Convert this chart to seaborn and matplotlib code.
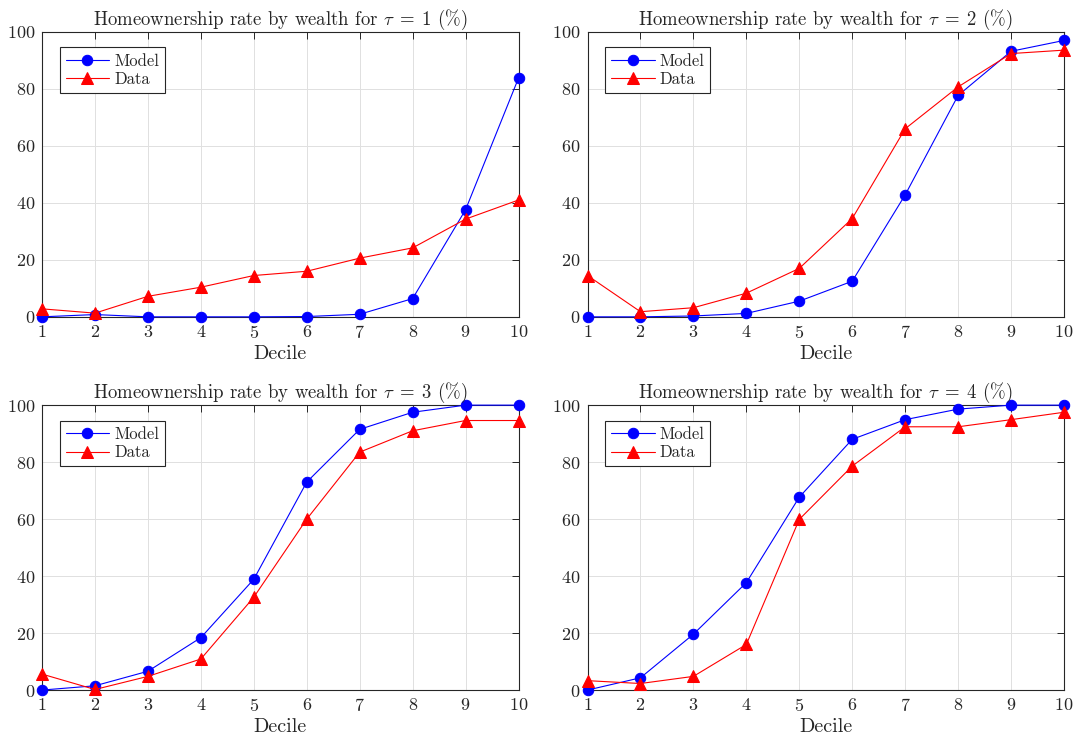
import numpy as np
import pandas as pd
import matplotlib
matplotlib.use('Agg')
import matplotlib.pyplot as plt
import seaborn as sns

## Data
deciles = [1, 2, 3, 4, 5, 6, 7, 8, 9, 10]
taus = [1, 2, 3, 4]

model_tau1 = [0.0, 0.8, 0.0, 0.0, 0.0, 0.1, 0.9, 6.4, 37.6, 83.8]
data_tau1  = [2.8, 1.3, 7.2, 10.4, 14.5, 16.0, 20.6, 24.2, 34.3, 41.0]

model_tau2 = [0.0, 0.0, 0.3, 1.2, 5.5, 12.5, 42.8, 77.7, 93.2, 97.0]
data_tau2  = [14.5, 1.8, 3.2, 8.3, 17.0, 34.5, 66.0, 80.7, 92.4, 93.6]

model_tau3 = [0.0, 1.5, 6.6, 18.4, 38.9, 73.0, 91.5, 97.5, 100.0, 100.0]
data_tau3  = [5.6, 0.2, 4.8, 10.9, 32.6, 60.0, 83.5, 91.0, 94.6, 94.6]

model_tau4 = [0.0, 4.3, 19.6, 37.7, 67.7, 88.0, 94.9, 98.6, 100.0, 100.0]
data_tau4  = [3.3, 2.3, 4.8, 16.0, 59.9, 78.6, 92.4, 92.4, 94.9, 97.5]

models = [model_tau1, model_tau2, model_tau3, model_tau4]
datas  = [data_tau1, data_tau2, data_tau3, data_tau4]

## Style
sns.set_style('white')
plt.rcParams['font.family'] = 'serif'
plt.rcParams['font.serif'] = ['cmr10', 'DejaVu Serif']
plt.rcParams['mathtext.fontset'] = 'cm'
plt.rcParams['axes.formatter.use_mathtext'] = True

fig = plt.figure(figsize=(10.78, 7.42), dpi=100)
lefts   = [0.039, 0.545, 0.039, 0.545]
bottoms = [0.573, 0.573, 0.070, 0.070]
width   = 0.442
height  = 0.384

for i in range(4):
    ax = fig.add_axes([lefts[i], bottoms[i], width, height])
    df_m = pd.DataFrame({'Decile': deciles, 'rate': models[i]})
    df_d = pd.DataFrame({'Decile': deciles, 'rate': datas[i]})

    sns.lineplot(data=df_m, x='Decile', y='rate', ax=ax, color='blue', marker='o',
                 markersize=7.5, markeredgecolor='blue', linewidth=0.8, label='Model', clip_on=False, zorder=3)
    sns.lineplot(data=df_d, x='Decile', y='rate', ax=ax, color='red', marker='^',
                 markersize=8.5, markeredgecolor='red', linewidth=0.8, label='Data', clip_on=False, zorder=3)

    ## Axes customization
    ax.set_xlim(1, 10)
    ax.set_ylim(0, 100)
    ax.set_xticks(deciles)
    ax.set_yticks([0, 20, 40, 60, 80, 100])
    ax.grid(True, color='#e0e0e0', linewidth=0.7)
    ax.set_axisbelow(True)
    for sp in ax.spines.values():
        sp.set_color('#262626')
        sp.set_linewidth(0.8)
    ax.tick_params(direction='in', top=True, right=True, length=5, width=0.7,
                   labelsize=13, colors='#262626', pad=5)
    ax.set_xlabel('Decile', fontsize=14.5, color='#262626', labelpad=3)
    ax.set_ylabel('')
    ax.set_title(r'Homeownership rate by wealth for $\tau\;=\;%d$ (%%)' % taus[i], fontsize=13.5, pad=5)

    leg = ax.legend(loc='upper left', bbox_to_anchor=(0.02, 0.975), fontsize=12, frameon=True,
                    fancybox=False, edgecolor='#262626', framealpha=1, borderpad=0.35,
                    handlelength=2.6, handletextpad=0.3, labelspacing=0.2)
    leg.get_frame().set_linewidth(0.8)

fig.savefig('out.png', dpi=100)
